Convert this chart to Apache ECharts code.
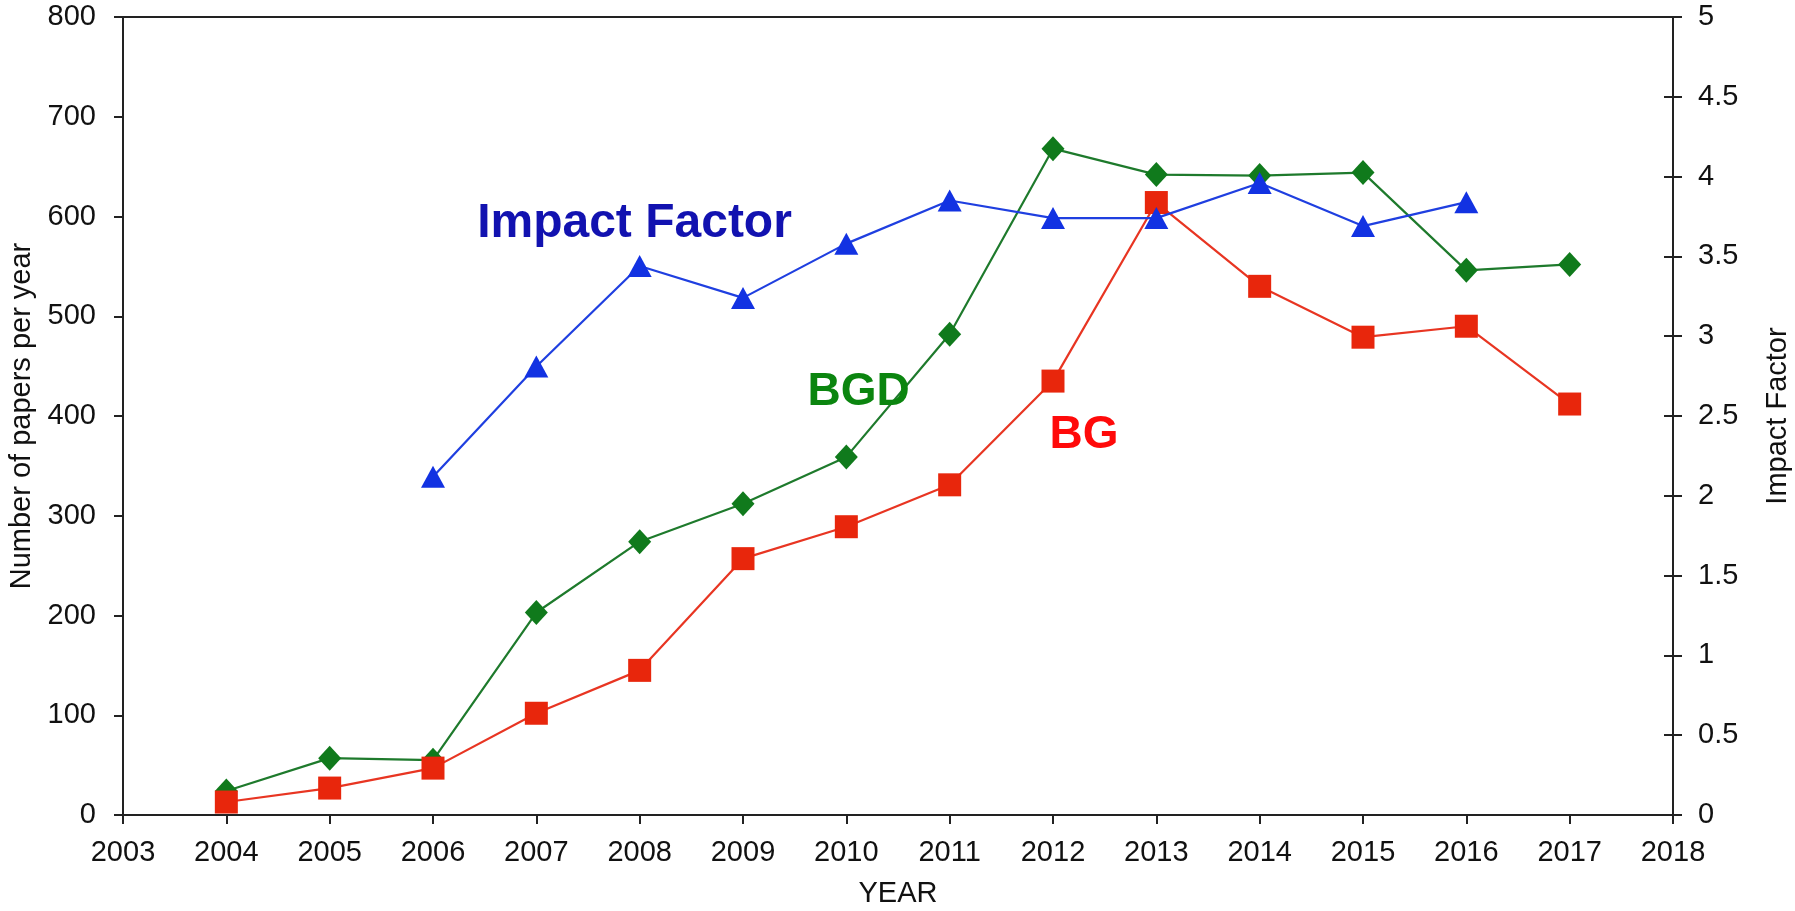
<!DOCTYPE html>
<html>
<head>
<meta charset="utf-8">
<script src="https://cdn.jsdelivr.net/npm/echarts@6/dist/echarts.min.js"></script>
<style>
html,body{margin:0;padding:0;background:#fff;}
#chart{width:1795px;height:911px;}
</style>
</head>
<body>
<div id="chart"></div>
<script>
// ---- data ----
const paperYears = [2004, 2005, 2006, 2007, 2008, 2009, 2010, 2011, 2012, 2013, 2014, 2015, 2016, 2017];
const bgPapers   = [13, 27, 47, 102, 145, 257, 289, 331, 435, 614, 530, 479, 490, 412];
const bgdPapers  = [24, 57, 55, 203, 274, 312, 359, 482, 668, 642, 641, 644, 546, 552];
const ifYears    = [2006, 2007, 2008, 2009, 2010, 2011, 2012, 2013, 2014, 2015, 2016];
const impactFactor = [2.12, 2.81, 3.44, 3.24, 3.58, 3.85, 3.74, 3.74, 3.96, 3.69, 3.84];
const xRange = [2003, 2018];
const leftRange = [0, 800];
const rightRange = [0, 5];
const annotations = [
  { text: 'Impact Factor', year: 2007.95, value: 592.5, color: '#1212b0', size: 48 },
  { text: 'BGD', year: 2010.12, value: 423.5, color: '#0b850f', size: 46 },
  { text: 'BG', year: 2012.30, value: 381, color: '#ff0a0a', size: 46 }
];

const FONT = '"Liberation Sans", Arial, Helvetica, sans-serif';
const pair = (xs, ys) => xs.map((x, i) => [x, ys[i]]);
const axisLine = { show: true, lineStyle: { color: '#222', width: 2 } };
const labelStyle = { color: '#111', fontSize: 29, fontFamily: FONT };

const chart = echarts.init(document.getElementById('chart'), null, { renderer: 'canvas' });
const option = {
  animation: false,
  backgroundColor: '#fff',
  grid: { left: 123, right: 122, top: 17, bottom: 96, show: true, borderColor: '#222', borderWidth: 2,
          containLabel: false, outerBoundsMode: 'none' },
  xAxis: {
    type: 'value', min: xRange[0], max: xRange[1], interval: 1,
    name: 'YEAR', nameLocation: 'middle', nameGap: 64,
    nameTextStyle: { color: '#111', fontSize: 29, fontFamily: FONT },
    axisLine: axisLine,
    axisTick: { show: true, inside: false, length: 9, lineStyle: { color: '#222', width: 2 } },
    axisLabel: Object.assign({ margin: 23, formatter: v => String(v) }, labelStyle),
    splitLine: { show: false }
  },
  yAxis: [
    {
      type: 'value', position: 'left', min: leftRange[0], max: leftRange[1], interval: 100,
      name: 'Number of papers per year', nameLocation: 'middle', nameGap: 78, nameRotate: 90,
      nameTextStyle: { color: '#111', fontSize: 29, fontFamily: FONT },
      axisLine: axisLine,
      axisTick: { show: true, inside: false, length: 9, lineStyle: { color: '#222', width: 2 } },
      axisLabel: Object.assign({ margin: 27 }, labelStyle),
      splitLine: { show: false }
    },
    {
      type: 'value', position: 'right', min: rightRange[0], max: rightRange[1], interval: 0.5,
      name: 'Impact Factor', nameLocation: 'middle', nameGap: 90, nameRotate: 90,
      nameTextStyle: { color: '#111', fontSize: 29, fontFamily: FONT },
      axisLine: axisLine,
      axisTick: { show: true, inside: false, length: 9, lineStyle: { color: '#222', width: 2 } },
      axisLabel: Object.assign({ margin: 25 }, labelStyle),
      splitLine: { show: false }
    },
    {
      type: 'value', position: 'right', min: rightRange[0], max: rightRange[1], interval: 0.5,
      axisLine: { show: false },
      axisTick: { show: true, inside: true, length: 9, lineStyle: { color: '#222', width: 2 } },
      axisLabel: { show: false },
      splitLine: { show: false }
    }
  ],
  series: [
    {
      name: 'BGD', type: 'line', yAxisIndex: 0, data: pair(paperYears, bgdPapers),
      symbol: 'diamond', symbolSize: [23, 25], showAllSymbol: true,
      lineStyle: { color: '#1e7a2c', width: 2.2 },
      itemStyle: { color: '#107a1c' }, z: 2
    },
    {
      name: 'BG', type: 'line', yAxisIndex: 0, data: pair(paperYears, bgPapers),
      symbol: 'rect', symbolSize: 23, showAllSymbol: true,
      lineStyle: { color: '#e83522', width: 2.2 },
      itemStyle: { color: '#e8260c' }, z: 3
    },
    {
      name: 'Impact Factor', type: 'line', yAxisIndex: 1, data: pair(ifYears, impactFactor),
      symbol: 'triangle', symbolSize: [24, 22], showAllSymbol: true,
      lineStyle: { color: '#1f3fe0', width: 2.2 },
      itemStyle: { color: '#1232e2' }, z: 4
    }
  ]
};
chart.setOption(option);

const graphics = annotations.map(a => {
  const p = chart.convertToPixel({ xAxisIndex: 0, yAxisIndex: 0 }, [a.year, a.value]);
  return {
    type: 'text', x: p[0], y: p[1], z: 10,
    style: { text: a.text, fill: a.color, fontSize: a.size, fontWeight: 'bold', fontFamily: FONT,
             align: 'center', verticalAlign: 'middle' }
  };
});
chart.setOption({ graphic: graphics });
</script>
</body>
</html>
